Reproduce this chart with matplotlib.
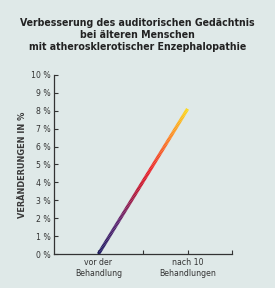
import numpy as np
import matplotlib
matplotlib.use("Agg")
import matplotlib.pyplot as plt
from matplotlib.collections import LineCollection
from matplotlib.colors import LinearSegmentedColormap

title = "Verbesserung des auditorischen Gedächtnis\nbei älteren Menschen\nmit atherosklerotischer Enzephalopathie"
categories = ["vor der\nBehandlung", "nach 10\nBehandlungen"]
cat_pos = [1, 3]
values = [0.0, 8.1]
y_ticks = list(range(0, 11))
y_labels = [f"{v} %" for v in y_ticks]

bg = "#dfe9e8"
ink = "#333333"
font = "DejaVu Sans"

fig = plt.figure(figsize=(2.75, 2.88), dpi=100, facecolor=bg)
ax = fig.add_axes([0.196, 0.118, 0.648, 0.622])
ax.set_facecolor(bg)
ax.patch.set_alpha(0)

# gradient line
cmap = LinearSegmentedColormap.from_list(
    "grad", [(0.0, "#1a1860"), (0.22, "#5a1e6e"), (0.45, "#c0122e"),
             (0.58, "#ee1c24"), (0.8, "#ff7f1e"), (1.0, "#ffd815")])
n = 120
xs = np.linspace(cat_pos[0], cat_pos[1], n)
ys = np.linspace(values[0], values[1], n)
pts = np.column_stack([xs, ys]).reshape(-1, 1, 2)
segs = np.concatenate([pts[:-1], pts[1:]], axis=1)
lc = LineCollection(segs, cmap=cmap, linewidth=2.4, capstyle="butt")
lc.set_array(np.linspace(0, 1, n - 1))
ax.add_collection(lc)

ax.set_xlim(0, 4)
ax.set_ylim(0, 10)
ax.set_yticks(y_ticks)
ax.set_yticklabels(y_labels)
ax.set_xticks([1, 2, 3, 4])
ax.set_xticklabels([categories[0], "", categories[1], ""])
ax.tick_params(axis="both", direction="in", length=3, width=0.8, colors=ink, pad=3)
ax.tick_params(axis="y", pad=2)
for lab in ax.get_xticklabels() + ax.get_yticklabels():
    lab.set_family(font)
    lab.set_fontstretch("condensed")
    lab.set_fontsize(6.2)
    lab.set_color(ink)
for s in ["top", "right"]:
    ax.spines[s].set_visible(False)
for s in ["left", "bottom"]:
    ax.spines[s].set_color(ink)
    ax.spines[s].set_linewidth(0.9)

ax.set_ylabel("VERÄNDERUNGEN IN %", family=font, fontstretch="condensed",
              fontweight="bold", fontsize=6.6, color="#3a3a3a", labelpad=3)

fig.text(0.5, 0.937, title, ha="center", va="top", family=font, fontstretch="condensed",
         fontweight="bold", fontsize=7.6, color="#222222", linespacing=1.25)

fig.savefig("out.png", dpi=100, facecolor=bg)
